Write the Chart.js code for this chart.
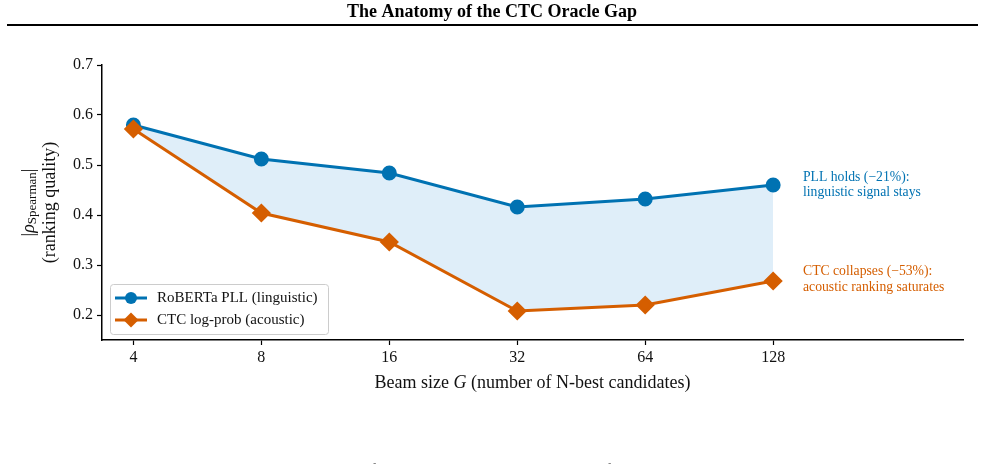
<!DOCTYPE html>
<html>
<head>
<meta charset="utf-8">
<script src="https://cdn.jsdelivr.net/npm/chart.js@4"></script>
<style>
  html, body { margin: 0; padding: 0; background: #fff; }
  canvas { display: block; }
</style>
</head>
<body>
<canvas id="chart" width="985" height="464"></canvas>
<script>
const beamSizes = [4, 8, 16, 32, 64, 128];
const pllValues = [0.580, 0.512, 0.484, 0.416, 0.432, 0.460];
const ctcValues = [0.572, 0.404, 0.346, 0.208, 0.220, 0.268];
const yTicks = [0.2, 0.3, 0.4, 0.5, 0.6, 0.7];

const blue = '#0072b2';
const orange = '#d55e00';
const serif = '"Liberation Serif", "DejaVu Serif", serif';

const ctx = document.getElementById('chart');

// title, rule, axis labels, notes and legend
const decor = {
    id: 'decor',
    afterDraw(chart) {
        const c = chart.ctx;
        const area = chart.chartArea;
        c.save();
        c.fillStyle = '#000';
        c.font = 'bold 18px ' + serif;
        c.textAlign = 'center';
        c.textBaseline = 'middle';
        c.fillText('The Anatomy of the CTC Oracle Gap', 492, 12);
        c.fillRect(7, 24, 971, 2);

        // y label, two rotated lines
        const cy = (area.top + area.bottom) / 2;
        c.save();
        c.translate(29, cy);
        c.rotate(-Math.PI / 2);
        c.fillStyle = '#111';
        c.textAlign = 'left';
        c.font = '18px ' + serif;
        const wBar = c.measureText('|').width;
        c.font = 'italic 18px ' + serif;
        const wRho = c.measureText('\u03c1').width;
        c.font = '13px ' + serif;
        const wSub = c.measureText('Spearman').width;
        let x0 = -(wBar * 2 + wRho + wSub) / 2;
        c.font = '18px ' + serif;
        c.fillText('|', x0, 0);
        c.font = 'italic 18px ' + serif;
        c.fillText('\u03c1', x0 + wBar, 0);
        c.font = '13px ' + serif;
        c.fillText('Spearman', x0 + wBar + wRho, 4);
        c.font = '18px ' + serif;
        c.fillText('|', x0 + wBar + wRho + wSub, 0);
        c.textAlign = 'center';
        c.fillText('(ranking quality)', 0, 21);
        c.restore();

        // x label with italic G
        c.fillStyle = '#111';
        c.textAlign = 'left';
        const a = 'Beam size ', g = 'G', b = ' (number of N-best candidates)';
        c.font = '18px ' + serif;
        const wa = c.measureText(a).width;
        const wbb = c.measureText(b).width;
        c.font = 'italic 18px ' + serif;
        const wg = c.measureText(g).width;
        let lx = (area.left + area.right) / 2 - (wa + wg + wbb) / 2;
        c.font = '18px ' + serif;
        c.fillText(a, lx, 383);
        c.font = 'italic 18px ' + serif;
        c.fillText(g, lx + wa, 383);
        c.font = '18px ' + serif;
        c.fillText(b, lx + wa + wg, 383);

        // notes
        c.font = '13.7px ' + serif;
        c.fillStyle = blue;
        c.fillText('PLL holds (\u221221%):', 803, 177);
        c.fillText('linguistic signal stays', 803, 192);
        c.fillStyle = orange;
        c.fillText('CTC collapses (\u221253%):', 803, 271);
        c.fillText('acoustic ranking saturates', 803, 287);

        // legend
        const lx0 = 110, ly0 = 284, lw = 218, lh = 50;
        c.beginPath();
        c.roundRect(lx0 + 0.5, ly0 + 0.5, lw, lh, 3);
        c.fillStyle = 'rgba(255,255,255,0.85)';
        c.fill();
        c.strokeStyle = '#cccccc';
        c.lineWidth = 1;
        c.stroke();
        const items = [
            { label: 'RoBERTa PLL (linguistic)', color: blue, shape: 'circle', y: 298 },
            { label: 'CTC log-prob (acoustic)', color: orange, shape: 'diamond', y: 320 }
        ];
        items.forEach(it => {
            c.strokeStyle = it.color;
            c.lineWidth = 3;
            c.beginPath();
            c.moveTo(115, it.y);
            c.lineTo(147, it.y);
            c.stroke();
            c.fillStyle = it.color;
            c.beginPath();
            if (it.shape === 'circle') {
                c.arc(131, it.y, 6, 0, Math.PI * 2);
            } else {
                c.moveTo(131, it.y - 7.5);
                c.lineTo(138.5, it.y);
                c.lineTo(131, it.y + 7.5);
                c.lineTo(123.5, it.y);
                c.closePath();
            }
            c.fill();
            c.fillStyle = '#111';
            c.font = '15px ' + serif;
            c.textAlign = 'left';
            c.fillText(it.label, 157, it.y);
        });

        // caption, cut off by the bottom edge
        c.fillStyle = '#333';
        c.font = '14px ' + serif;
        c.textBaseline = 'alphabetic';
        c.fillText('Figure 3:  What the CTC oracle gap means.  Ranking quality of the two scorers as the N-best list grows, for each beam size G tested.', 20, 474);
        c.restore();
    }
};

const config = {
    type: 'line',
    data: {
        datasets: [{
            label: 'RoBERTa PLL (linguistic)',
            data: beamSizes.map((g, i) => ({ x: g, y: pllValues[i] })),
            borderColor: blue,
            backgroundColor: '#dfeef9',
            pointBackgroundColor: blue,
            pointBorderColor: blue,
            pointStyle: 'circle',
            pointRadius: 6,
            borderWidth: 3,
            fill: '+1',
            tension: 0,
            order: 2
        }, {
            label: 'CTC log-prob (acoustic)',
            data: beamSizes.map((g, i) => ({ x: g, y: ctcValues[i] })),
            borderColor: orange,
            backgroundColor: orange,
            pointBackgroundColor: orange,
            pointBorderColor: orange,
            pointStyle: 'rectRot',
            pointRadius: 7.5,
            borderWidth: 3,
            fill: false,
            tension: 0,
            order: 1
        }]
    },
    options: {
        responsive: false,
        animation: false,
        layout: { padding: { left: 0, top: 65, right: 22, bottom: 0 } },
        plugins: {
            legend: { display: false },
            tooltip: { enabled: false },
            title: { display: false }
        },
        scales: {
            x: {
                type: 'logarithmic',
                min: 3.374,
                max: 358,
                afterBuildTicks: s => { s.ticks = beamSizes.map(v => ({ value: v })); },
                afterFit: s => { s.height = 124; },
                ticks: {
                    callback: v => String(v),
                    color: '#111',
                    font: { family: serif, size: 16 },
                    padding: 3,
                    maxRotation: 0
                },
                grid: { display: true, drawOnChartArea: false, tickLength: 5, color: '#000', tickWidth: 1.2 },
                border: { display: true, color: '#000', width: 1.5 }
            },
            y: {
                type: 'linear',
                min: 0.15,
                max: 0.7,
                afterBuildTicks: s => { s.ticks = yTicks.map(v => ({ value: v })); },
                afterFit: s => { s.width = 102; },
                ticks: {
                    callback: v => v.toFixed(1),
                    color: '#111',
                    font: { family: serif, size: 16 },
                    padding: 4
                },
                grid: { display: true, drawOnChartArea: false, tickLength: 5, color: '#000', tickWidth: 1.2 },
                border: { display: true, color: '#000', width: 1.5 }
            }
        }
    },
    plugins: [decor]
};

const chart = new Chart(ctx, config);
</script>
</body>
</html>
